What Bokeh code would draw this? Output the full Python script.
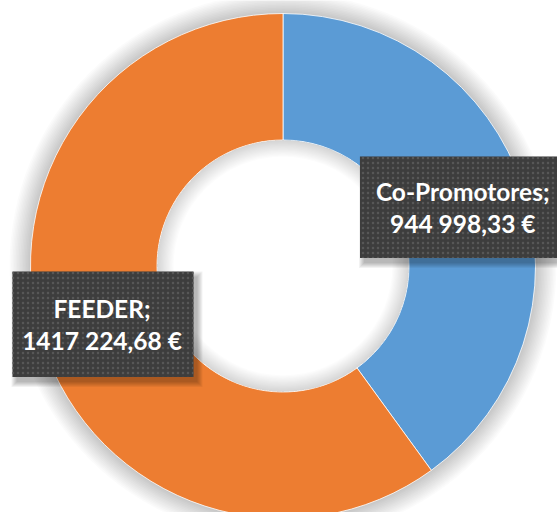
import math
from bokeh.plotting import figure
from bokeh.models import Range1d
from bokeh.core.properties import value
from bokeh.embed import file_html
from bokeh.resources import INLINE

# ---- data ----
categories = ["Co-Promotores", "FEEDER"]
amounts = [944998.33, 1417224.68]
amount_labels = ["944 998,33 €", "1417 224,68 €"]
colors = ["#5B9BD5", "#ED7D31"]

# ---- layout (pixels) ----
W, H = 557, 512
CX, CY = 282.5, H - 265.5
R_OUT, R_IN = 252.5, 126.0
# label boxes: (left, top, right, bottom) in screen pixels
boxes = [(359.5, 156.0, 557.0, 257.5), (12.0, 271.0, 193.0, 376.5)]

p = figure(width=W, height=H, output_backend="svg", toolbar_location=None,
           x_range=Range1d(0, W), y_range=Range1d(0, H), min_border=0)
p.axis.visible = False
p.grid.visible = False
p.outline_line_color = None
p.background_fill_color = "white"
p.border_fill_color = "white"

# soft outer shadow
n = 14
for k in range(n):
    p.annulus(x=[CX], y=[CY], inner_radius=R_OUT - 2, outer_radius=R_OUT + 1.5 * (k + 1),
              fill_color="black", fill_alpha=0.016, line_color=None)

# wedges
total = sum(amounts)
start = math.pi / 2
starts, ends = [], []
for a in amounts:
    span = a / total * 2 * math.pi
    ends.append(start)
    starts.append(start - span)
    start -= span
p.annular_wedge(x=[CX] * len(amounts), y=[CY] * len(amounts), inner_radius=R_IN,
                outer_radius=R_OUT, start_angle=starts, end_angle=ends,
                fill_color=colors, line_color="white", line_width=0.8)

# inner shadow inside the hole
for k in range(n):
    p.annulus(x=[CX], y=[CY], inner_radius=R_IN - 1.2 * (k + 1), outer_radius=R_IN,
              fill_color="black", fill_alpha=0.012, line_color=None)

# label boxes with shadow
for (l, t, r, b) in boxes:
    cx = (l + r) / 2
    cy = H - (t + b) / 2
    w = r - l
    h = b - t
    for k in range(6):
        p.rect(x=[cx + 4], y=[cy - 5], width=w + 2 * k, height=h + 2 * k,
               fill_color="black", fill_alpha=0.05, line_color=None)
    p.rect(x=[cx], y=[cy], width=w, height=h, fill_color="#3d3d3d", line_color=None,
           hatch_pattern="dot", hatch_color="#575757", hatch_scale=5, hatch_weight=1.5)

# label texts
for i, (l, t, r, b) in enumerate(boxes):
    cx = (l + r) / 2 + (4 if i == 0 else -1)
    cy = (t + b) / 2
    p.text(x=[cx, cx], y=[H - (cy - 15.5), H - (cy + 16.5)],
           text=[categories[i] + ";", amount_labels[i]],
           text_font=value("Lato"), text_font_style="bold", text_font_size="24.5px",
           text_color="white", text_align="center", text_baseline="middle")

open("out.html", "w").write(file_html(p, INLINE))
